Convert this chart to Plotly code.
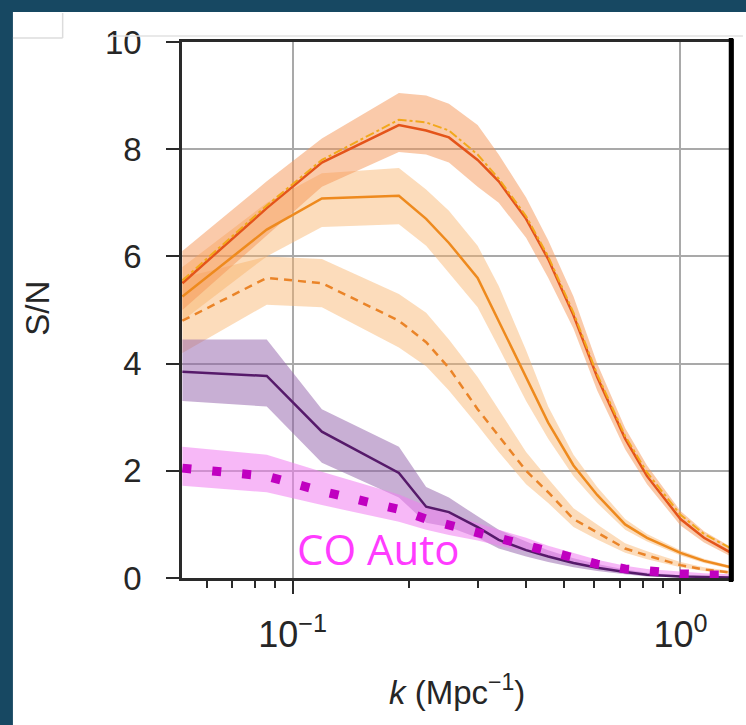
import plotly.graph_objects as go

# ---------------- data ----------------
k = [0.052, 0.0858, 0.119, 0.188, 0.221, 0.253, 0.30, 0.34, 0.40, 0.456,
     0.53, 0.61, 0.72, 0.82, 1.0, 1.15, 1.35]

# top (red-orange solid) curve and its band
sn_top = [5.5, 6.9, 7.75, 8.45, 8.35, 8.22, 7.8, 7.4, 6.7, 5.95,
          4.9, 3.75, 2.6, 1.9, 1.1, 0.75, 0.47]
sn_top_hi = [6.1, 7.4, 8.2, 9.05, 9.0, 8.85, 8.45, 7.9, 7.1, 6.3,
             5.25, 4.0, 2.8, 2.1, 1.25, 0.87, 0.58]
sn_top_lo = [5.0, 6.4, 7.3, 7.95, 7.9, 7.75, 7.3, 7.0, 6.35, 5.6,
             4.65, 3.5, 2.4, 1.75, 0.98, 0.66, 0.4]
# dash-dot curve lying on top of it
sn_dashdot = [5.55, 6.95, 7.8, 8.55, 8.5, 8.35, 7.9, 7.45, 6.75, 6.0,
              4.95, 3.8, 2.65, 1.97, 1.18, 0.82, 0.55]

# middle orange solid curve and band
sn_mid = [5.25, 6.5, 7.08, 7.13, 6.7, 6.25, 5.6, 4.8, 3.75, 2.9,
          2.1, 1.55, 1.0, 0.75, 0.47, 0.32, 0.2]
sn_mid_hi = [5.8, 7.0, 7.55, 7.65, 7.25, 6.85, 6.2, 5.45, 4.25, 3.2,
             2.3, 1.7, 1.1, 0.82, 0.52, 0.36, 0.23]
sn_mid_lo = [4.8, 6.0, 6.55, 6.6, 6.2, 5.7, 5.05, 4.3, 3.3, 2.6,
             1.9, 1.4, 0.9, 0.68, 0.42, 0.28, 0.17]

# dashed orange curve and band
sn_dash = [4.8, 5.6, 5.5, 4.8, 4.4, 3.92, 3.15, 2.65, 2.0, 1.6,
           1.1, 0.85, 0.55, 0.42, 0.24, 0.16, 0.1]
sn_dash_hi = [5.6, 6.0, 5.95, 5.3, 4.95, 4.45, 3.75, 3.15, 2.35, 1.85,
              1.3, 1.0, 0.65, 0.5, 0.3, 0.2, 0.13]
sn_dash_lo = [4.2, 5.1, 5.05, 4.3, 3.95, 3.5, 2.85, 2.35, 1.75, 1.4,
              0.95, 0.72, 0.47, 0.35, 0.2, 0.13, 0.08]

# purple solid curve and band
sn_purple = [3.85, 3.77, 2.73, 1.96, 1.33, 1.23, 0.95, 0.71, 0.52, 0.4,
             0.28, 0.19, 0.11, 0.06, 0.03, 0.02, 0.01]
sn_purple_hi = [4.45, 4.45, 3.15, 2.45, 1.7, 1.5, 1.15, 0.9, 0.68, 0.52,
                0.37, 0.26, 0.16, 0.1, 0.05, 0.03, 0.02]
sn_purple_lo = [3.3, 3.2, 2.15, 1.5, 1.03, 0.95, 0.75, 0.55, 0.4, 0.3,
                0.2, 0.13, 0.07, 0.03, 0.01, 0.0, 0.0]

# CO auto (magenta dotted) curve and band
sn_auto = [2.05, 1.9, 1.62, 1.28, 1.1, 0.99, 0.85, 0.74, 0.62, 0.5,
           0.38, 0.26, 0.17, 0.12, 0.08, 0.06, 0.05]
sn_auto_hi = [2.45, 2.3, 1.98, 1.56, 1.35, 1.2, 1.02, 0.9, 0.75, 0.6,
              0.47, 0.34, 0.23, 0.17, 0.12, 0.09, 0.07]
sn_auto_lo = [1.72, 1.6, 1.36, 1.05, 0.9, 0.8, 0.7, 0.6, 0.5, 0.4,
              0.3, 0.2, 0.12, 0.08, 0.05, 0.04, 0.03]

x_tickvals = [0.1, 1.0]
x_ticktext = ["10<sup>\u22121</sup>", "10<sup>0</sup>"]
x_minor = [0.06, 0.07, 0.08, 0.09, 0.2, 0.3, 0.4, 0.5, 0.6, 0.7, 0.8, 0.9]
y_tickvals = [0, 2, 4, 6, 8, 10]
label_auto = "CO Auto"

# ---------------- figure ----------------
fig = go.Figure()


def band(lo, hi, color):
    fig.add_trace(go.Scatter(x=k, y=lo, mode="lines", line=dict(width=0),
                             hoverinfo="skip", showlegend=False))
    fig.add_trace(go.Scatter(x=k, y=hi, mode="lines", line=dict(width=0),
                             fill="tonexty", fillcolor=color,
                             hoverinfo="skip", showlegend=False))


band(sn_dash_lo, sn_dash_hi, "rgba(249,178,105,0.45)")
band(sn_mid_lo, sn_mid_hi, "rgba(249,178,105,0.45)")
band(sn_top_lo, sn_top_hi, "rgba(245,150,85,0.5)")
band(sn_purple_lo, sn_purple_hi, "rgba(145,95,170,0.5)")
band(sn_auto_lo, sn_auto_hi, "rgba(240,125,240,0.55)")


def line(y, color, width, dash="solid"):
    fig.add_trace(go.Scatter(x=k, y=y, mode="lines",
                             line=dict(color=color, width=width, dash=dash),
                             showlegend=False))


line(sn_dash, "#ea8428", 2.5, "8px,6px")
line(sn_mid, "#ee8a1e", 2.5)
line(sn_top, "#e4541a", 2.5)
line(sn_dashdot, "#f2a81c", 2, "dashdot")
line(sn_purple, "#561a6a", 2.5)
line(sn_auto, "#c000c0", 9, "9px,21px")

L, R, T, B = 182, 12, 42, 147
W, H = 746, 725
pw, ph = W - L - R, H - T - B


def px(p):
    return (p - L) / pw


def py(p):
    return 1 - (p - T) / ph


axis_font = dict(family="Liberation Sans, Arial, sans-serif", size=33, color="#262626")

fig.update_layout(
    width=W, height=H,
    margin=dict(l=L, r=R, t=T, b=B),
    paper_bgcolor="white", plot_bgcolor="white",
    showlegend=False,
    xaxis=dict(type="log", range=[-1.285, 0.1303],
               tickmode="array", tickvals=x_tickvals, ticktext=x_ticktext,
               tickfont=dict(family="Liberation Sans, Arial, sans-serif", size=36, color="#262626"),
               ticks="outside", ticklen=13, tickwidth=2, tickcolor="#2a2a2a",
               ticklabelstandoff=10,
               showgrid=True, gridcolor="#a9a9a9", gridwidth=1.5,
               showline=True, linecolor="#2a2a2a", linewidth=2.5, mirror=True,
               zeroline=False,
               minor=dict(tickmode="array", tickvals=x_minor, ticks="outside",
                          ticklen=7, tickwidth=1.5, tickcolor="#2a2a2a", showgrid=False)),
    yaxis=dict(range=[0, 10], tickmode="array", tickvals=y_tickvals,
               tickfont=axis_font,
               ticks="outside", ticklen=13, tickwidth=2, tickcolor="#2a2a2a",
               ticklabelstandoff=18,
               showgrid=True, gridcolor="#a9a9a9", gridwidth=1.5,
               showline=True, linecolor="#2a2a2a", linewidth=2.5, mirror=True,
               zeroline=False),
    shapes=[
        # right-hand thick black frame line
        dict(type="line", xref="paper", yref="paper", x0=1, x1=1,
             y0=py(582), y1=py(38), line=dict(color="black", width=4.5)),
        # slide background strips
        dict(type="rect", xref="paper", yref="paper", x0=px(-5), x1=px(12),
             y0=py(730), y1=py(-5), fillcolor="#174862", line=dict(width=0), layer="above"),
        dict(type="rect", xref="paper", yref="paper", x0=px(-5), x1=px(750),
             y0=py(12), y1=py(-5), fillcolor="#174862", line=dict(width=0), layer="above"),
        # faint screenshot edges near the top
        dict(type="line", xref="paper", yref="paper", x0=px(12), x1=px(62),
             y0=py(38), y1=py(38), line=dict(color="#dcdcdc", width=1.5)),
        dict(type="line", xref="paper", yref="paper", x0=px(62), x1=px(62),
             y0=py(13), y1=py(38), line=dict(color="#dcdcdc", width=1.5)),
        dict(type="line", xref="paper", yref="paper", x0=px(110), x1=px(746),
             y0=py(36), y1=py(36), line=dict(color="#e2e2e2", width=1.5)),
    ],
    annotations=[
        dict(text="S/N", textangle=-90, xref="paper", yref="paper",
             x=px(37), y=py(308), xanchor="center", yanchor="middle",
             showarrow=False, font=axis_font),
        dict(text="<i>k</i> (Mpc<sup>\u22121</sup>)", xref="paper", yref="paper",
             x=0.5, y=py(690), xanchor="center", yanchor="middle",
             showarrow=False, font=axis_font),
        dict(text=label_auto, xref="paper", yref="paper",
             x=px(296), y=py(548), xanchor="left", yanchor="middle",
             showarrow=False,
             font=dict(family="Open Sans, Noto Sans, sans-serif", size=42, color="#ff3cff")),
    ],
)

fig.write_html("out.html")
